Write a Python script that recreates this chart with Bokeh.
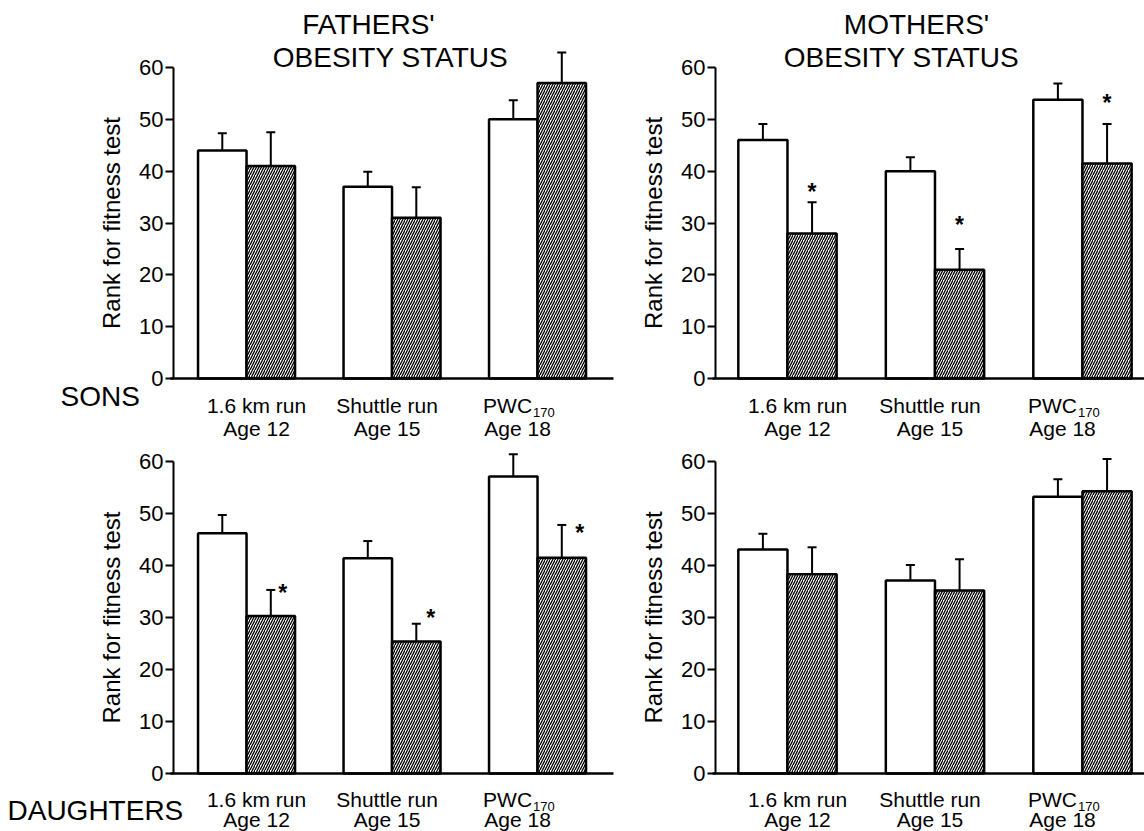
from bokeh.plotting import figure
from bokeh.models import Range1d, Label, Whisker, TeeHead, ColumnDataSource, FixedTicker
from bokeh.layouts import column, row
from bokeh.embed import file_html
from bokeh.resources import INLINE

FONT = "Liberation Sans"

# ---------------- data ----------------
test_names = ["1.6 km run", "Shuttle run", "PWC"]
test_subscripts = ["", "", "170"]
test_ages = ["Age 12", "Age 15", "Age 18"]

parent_titles = ["FATHERS'", "MOTHERS'"]
status_title = "OBESITY STATUS"
child_groups = ["SONS", "DAUGHTERS"]
y_label = "Rank for fitness test"
y_ticks = [0, 10, 20, 30, 40, 50, 60]

# Sons by fathers' obesity status
sons_fathers_nonobese = [44, 37, 50]
sons_fathers_nonobese_se = [3.3, 2.9, 3.7]
sons_fathers_obese = [41, 31, 57]
sons_fathers_obese_se = [6.5, 5.9, 5.9]
sons_fathers_sig = [False, False, False]

# Sons by mothers' obesity status
sons_mothers_nonobese = [46, 40, 53.8]
sons_mothers_nonobese_se = [3.1, 2.7, 3.1]
sons_mothers_obese = [28, 21, 41.5]
sons_mothers_obese_se = [6.0, 4.0, 7.6]
sons_mothers_sig = [True, True, True]

# Daughters by fathers' obesity status
daughters_fathers_nonobese = [46.2, 41.4, 57.1]
daughters_fathers_nonobese_se = [3.5, 3.3, 4.3]
daughters_fathers_obese = [30.3, 25.4, 41.5]
daughters_fathers_obese_se = [5.0, 3.4, 6.3]
daughters_fathers_sig = [True, True, True]

# Daughters by mothers' obesity status
daughters_mothers_nonobese = [43.1, 37.1, 53.2]
daughters_mothers_nonobese_se = [3.0, 3.0, 3.4]
daughters_mothers_obese = [38.3, 35.2, 54.3]
daughters_mothers_obese_se = [5.2, 6.0, 6.2]
daughters_mothers_sig = [False, False, False]

# ---------------- layout / style (canvas pixels) ----------------
COLS = [
    dict(left=0, right=618, axis=173, axis_end=613, u0=0.498, ppu=145.5),
    dict(left=618, right=1144, axis=715, axis_end=1144, u0=0.512, ppu=147.5),
]
ROWS = [
    dict(top=0, bottom=445, zero=378, ppv=5.183, l1=27, l2=50),
    dict(top=445, bottom=831, zero=773, ppv=5.2, l1=26, l2=46),
]
BAR_W = 1 / 3
LABEL_DX = [10, -5, -20]


def make_panel(r, c, non, non_se, ob, ob_se, sig, star_dx, star_dy):
    C, R = COLS[c], ROWS[r]

    def ux(xp):
        return C["u0"] + (xp - C["axis"]) / C["ppu"]

    def vy(yp):
        return (R["zero"] - yp) / R["ppv"]

    p = figure(width=C["right"] - C["left"], height=R["bottom"] - R["top"],
               x_range=Range1d(ux(C["left"]), ux(C["right"])),
               y_range=Range1d(vy(R["bottom"]), vy(R["top"])),
               output_backend="svg", toolbar_location=None,
               min_border_left=0, min_border_right=0,
               min_border_top=0, min_border_bottom=0)
    p.outline_line_color = None
    p.background_fill_color = "white"
    p.border_fill_color = "white"
    p.xgrid.visible = False
    p.ygrid.visible = False

    def text(xp, yc, s, fs, align="center", style="normal"):
        p.add_layout(Label(x=ux(xp), y=vy(yc), text=s, text_font=FONT,
                           text_font_size=f"{fs}px", text_font_style=style,
                           text_color="black", text_align=align,
                           text_baseline="middle"))

    # y axis (drawn at the left end of the data area)
    ya = p.yaxis[0]
    ya.fixed_location = C["u0"]
    ya.ticker = FixedTicker(ticks=y_ticks)
    ya.bounds = (0, 60)
    ya.axis_line_width = 2
    ya.axis_line_color = "black"
    ya.major_tick_line_width = 2
    ya.major_tick_line_color = "black"
    ya.major_tick_out = 8
    ya.major_tick_in = 0
    ya.minor_tick_line_color = None
    ya.major_label_text_font = FONT
    ya.major_label_text_font_size = "22px"
    ya.major_label_text_color = "black"
    ya.major_label_standoff = 2
    ya.axis_label = y_label
    ya.axis_label_text_font = FONT
    ya.axis_label_text_font_size = "24px"
    ya.axis_label_text_font_style = "normal"
    ya.axis_label_text_color = "black"
    ya.axis_label_standoff = 11

    # x axis: baseline only
    xa = p.xaxis[0]
    xa.fixed_location = 0
    xa.bounds = (ux(C["axis"] - 3), ux(C["axis_end"]))
    xa.ticker = FixedTicker(ticks=[])
    xa.major_label_text_font_size = "0px"
    xa.major_tick_line_color = None
    xa.minor_tick_line_color = None
    xa.axis_line_width = 2.5
    xa.axis_line_color = "black"

    centers = [i + 1 for i in range(len(non))]
    x_non = [cc - BAR_W / 2 for cc in centers]
    x_ob = [cc + BAR_W / 2 for cc in centers]
    src_non = ColumnDataSource(dict(x=x_non, top=non,
                                    upper=[v + e for v, e in zip(non, non_se)]))
    src_ob = ColumnDataSource(dict(x=x_ob, top=ob,
                                   upper=[v + e for v, e in zip(ob, ob_se)]))

    for src in (src_non, src_ob):
        p.add_layout(Whisker(source=src, base="x", lower="top", upper="upper",
                             dimension="height", line_width=2, line_color="black",
                             lower_head=None,
                             upper_head=TeeHead(size=9, line_width=2, line_color="black"),
                             level="glyph"))

    p.vbar(x="x", top="top", bottom=0, width=BAR_W, source=src_non,
           fill_color="white", line_color="black", line_width=2.5)
    p.vbar(x="x", top="top", bottom=0, width=BAR_W, source=src_ob,
           fill_color="white", line_color="black", line_width=2.5,
           hatch_pattern="/", hatch_color="black", hatch_scale=5,
           hatch_weight=1.3, hatch_alpha=1.0)

    # significance asterisks
    ups = src_ob.data["upper"]
    for i, s in enumerate(sig):
        if not s:
            continue
        y = ups[i] + (star_dy[i] - 3) / R["ppv"]
        p.add_layout(Label(x=x_ob[i], y=y, x_offset=star_dx[i], text="*",
                           text_font=FONT, text_font_size="23px",
                           text_font_style="bold", text_color="black",
                           text_align="center", text_baseline="middle"))

    # category labels
    fs = 21
    y1 = vy(R["zero"] + R["l1"])
    y2 = vy(R["zero"] + R["l2"])
    ysub = vy(R["zero"] + R["l1"] + 7)
    for i, cc in enumerate(centers):
        dx = LABEL_DX[i]
        if test_subscripts[i]:
            p.add_layout(Label(x=cc, y=y1, x_offset=dx + 14.5, text=test_names[i],
                               text_font=FONT, text_font_size=f"{fs}px", text_color="black",
                               text_align="right", text_baseline="middle"))
            p.add_layout(Label(x=cc, y=ysub, x_offset=dx + 15.5, text=test_subscripts[i],
                               text_font=FONT, text_font_size="13px", text_color="black",
                               text_align="left", text_baseline="middle"))
        else:
            p.add_layout(Label(x=cc, y=y1, x_offset=dx, text=test_names[i],
                               text_font=FONT, text_font_size=f"{fs}px", text_color="black",
                               text_align="center", text_baseline="middle"))
        p.add_layout(Label(x=cc, y=y2, x_offset=dx, text=test_ages[i],
                           text_font=FONT, text_font_size=f"{fs}px", text_color="black",
                           text_align="center", text_baseline="middle"))

    return p, text


tl, tl_text = make_panel(0, 0, sons_fathers_nonobese, sons_fathers_nonobese_se,
                         sons_fathers_obese, sons_fathers_obese_se, sons_fathers_sig,
                         [0, 0, 0], [0, 0, 0])
tl_text(368, 24, parent_titles[0], 28)
tl_text(390, 57, status_title, 28)
tl_text(60, 396, child_groups[0], 28, align="left")

tr, tr_text = make_panel(0, 1, sons_mothers_nonobese, sons_mothers_nonobese_se,
                         sons_mothers_obese, sons_mothers_obese_se, sons_mothers_sig,
                         [0, 0, 0], [13, 27, 24])
tr_text(916, 24, parent_titles[1], 28)
tr_text(901, 57, status_title, 28)

bl, bl_text = make_panel(1, 0, daughters_fathers_nonobese, daughters_fathers_nonobese_se,
                         daughters_fathers_obese, daughters_fathers_obese_se,
                         daughters_fathers_sig, [12, 14.5, 18], [0, 9, -5])
bl_text(7, 810, child_groups[1], 28, align="left")

br, _ = make_panel(1, 1, daughters_mothers_nonobese, daughters_mothers_nonobese_se,
                   daughters_mothers_obese, daughters_mothers_obese_se,
                   daughters_mothers_sig, [0, 0, 0], [0, 0, 0])

layout = column(row(tl, tr), row(bl, br))
open("out.html", "w").write(file_html(layout, INLINE))
